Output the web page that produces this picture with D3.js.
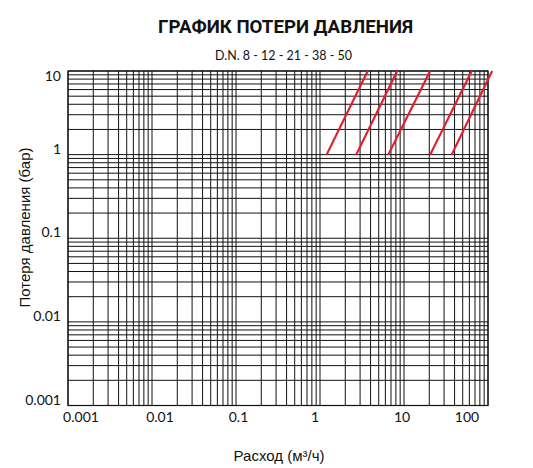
<!DOCTYPE html>
<html>
<head>
<meta charset="utf-8">
<script src="https://cdn.jsdelivr.net/npm/d3@7"></script>
<style>
  body { margin: 0; background: #fff; }
  text { fill: #111; }
</style>
</head>
<body>
<div id="chart"></div>
<script>
// the data
const flowTicks = [0.001, 0.01, 0.1, 1, 10, 100];
const lossTicks = [0.001, 0.01, 0.1, 1, 10];
const valveSizes = ["DN 8", "DN 12", "DN 21", "DN 38", "DN 50"];
const lossLevels = [1, 10];                       // bar, ends of each curve
const flowAtLow = [1.2, 2.7, 6.5, 20.5, 37];      // m3/h at 1 bar
const flowAtHigh = [3.7, 8.3, 20.5, 64, 112];     // m3/h at 10 bar

// box
const W = 533, H = 468;
const plot = { left: 68, right: 488, top: 71, bottom: 405.5 };

const svg = d3.select("#chart")
  .append("svg")
    .attr("width", W)
    .attr("height", H);

// scales
const x = d3.scaleLog()
  .domain([flowTicks[0], flowTicks[flowTicks.length - 1]])
  .range([plot.left, plot.right]);
const y = d3.scaleLog()
  .domain([lossTicks[0], lossTicks[lossTicks.length - 1]])
  .range([plot.bottom, plot.top]);

// log grid, all the 1..9 lines of every decade
const grid = svg.append("g").attr("stroke", "#111").attr("stroke-width", 1);
grid.selectAll("line.v")
  .data(x.ticks())
  .join("line")
    .attr("class", "v")
    .attr("x1", d => x(d)).attr("x2", d => x(d))
    .attr("y1", plot.top).attr("y2", plot.bottom);
grid.selectAll("line.h")
  .data(y.ticks())
  .join("line")
    .attr("class", "h")
    .attr("x1", plot.left).attr("x2", plot.right)
    .attr("y1", d => y(d)).attr("y2", d => y(d));

// frame
svg.append("rect")
  .attr("x", plot.left).attr("y", plot.top)
  .attr("width", plot.right - plot.left)
  .attr("height", plot.bottom - plot.top)
  .attr("fill", "none")
  .attr("stroke", "#111")
  .attr("stroke-width", 1.2);

// red curves, one per valve size
const curves = valveSizes.map((name, i) => ({
  name: name,
  pts: [[flowAtLow[i], lossLevels[0]], [flowAtHigh[i], lossLevels[1]]]
}));
const line = d3.line().x(d => x(d[0])).y(d => y(d[1]));
svg.append("g")
  .selectAll("path")
  .data(curves)
  .join("path")
    .attr("d", d => line(d.pts))
    .attr("fill", "none")
    .attr("stroke", "#df1f2d")
    .attr("stroke-width", 2.2);

// x tick labels - in the original they sit a bit off the grid lines
const xNudge = [13, 8, 2.5, -5, -2, -21];
svg.append("g")
  .selectAll("text")
  .data(flowTicks)
  .join("text")
    .attr("x", (d, i) => x(d) + xNudge[i])
    .attr("y", 421.5)
    .attr("text-anchor", "middle")
    .style("font-family", "Lato, 'Open Sans', sans-serif")
    .style("font-size", "14px")
    .text(d => d3.format("~g")(d));

// y tick labels
svg.append("g")
  .selectAll("text")
  .data(lossTicks)
  .join("text")
    .attr("x", 61)
    .attr("y", d => Math.max(y(d) - 1, plot.top + 10))
    .attr("text-anchor", "end")
    .style("font-family", "Lato, 'Open Sans', sans-serif")
    .style("font-size", "14px")
    .text(d => d3.format("~g")(d));

// titles
svg.append("text")
  .attr("x", 285.5).attr("y", 33)
  .attr("text-anchor", "middle")
  .attr("textLength", 255)
  .attr("lengthAdjust", "spacingAndGlyphs")
  .style("font-family", "Roboto, sans-serif")
  .style("font-weight", "bold")
  .style("font-size", "19px")
  .text("ГРАФИК ПОТЕРИ ДАВЛЕНИЯ");

svg.append("text")
  .attr("x", 283.5).attr("y", 60)
  .attr("text-anchor", "middle")
  .attr("textLength", 137)
  .attr("lengthAdjust", "spacingAndGlyphs")
  .style("font-family", "Lato, sans-serif")
  .style("font-size", "14px")
  .text("D.N. 8 - 12 - 21 - 38 - 50");

// axis titles
svg.append("text")
  .attr("x", 279).attr("y", 461)
  .attr("text-anchor", "middle")
  .style("font-family", "'Liberation Sans', Arial, sans-serif")
  .style("font-size", "15px")
  .text("Расход (м³/ч)");

svg.append("text")
  .attr("transform", "translate(30,227.5) rotate(-90)")
  .attr("text-anchor", "middle")
  .style("font-family", "'Liberation Sans', Arial, sans-serif")
  .style("font-size", "15px")
  .text("Потеря давления (бар)");
</script>
</body>
</html>
